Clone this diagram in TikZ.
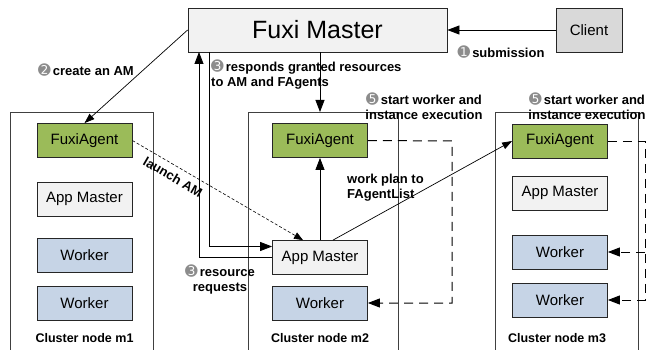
\documentclass[tikz,border=0pt]{standalone}
\usepackage{fontspec}
\setmainfont{Liberation Sans}
\newfontfamily\circfont{DejaVu Sans}
\usepackage{tikz}
\usetikzlibrary{arrows.meta}
\definecolor{masterfill}{HTML}{F2F2F2}
\definecolor{clientfill}{HTML}{D9D9D9}
\definecolor{agentfill}{HTML}{9BBB59}
\definecolor{workerfill}{HTML}{C6D4E6}
\tikzstyle{box}=[draw=black!85, line width=0.8pt, minimum width=95pt, minimum height=34pt, inner sep=0pt, font=\fontsize{15}{18}\selectfont]
\tikzstyle{agent}=[box, fill=agentfill]
\tikzstyle{appm}=[box, fill=masterfill]
\tikzstyle{worker}=[box, fill=workerfill]
\tikzstyle{lbl}=[font=\fontsize{13}{15}\selectfont\bfseries, inner sep=0pt]
\tikzstyle{clbl}=[font=\fontsize{12.5}{15}\selectfont\bfseries, inner sep=0pt]
\tikzstyle{cluster}=[draw=black!75, line width=0.8pt]
\tikzstyle{flow}=[line width=0.8pt, -{Triangle[length=12pt,width=9pt]}]
\tikzstyle{thinflow}=[line width=0.7pt, -{Triangle[length=10pt,width=7pt]}]
\tikzstyle{order}=[line width=1pt, dash pattern=on 9pt off 6pt, -{Triangle[length=12pt,width=9pt]}]
\newcommand{\stepno}[1]{{\circfont\fontsize{15}{15}\selectfont\color{black!45}#1}\,}

\begin{document}
\begin{tikzpicture}[x=1pt,y=-1pt]
\useasboundingbox (0,0) rectangle (650,350);
\draw[cluster] (10,352) |- (153,112) -- (153,352);
\draw[cluster] (248,352) |- (398,112) -- (398,352);
\draw[cluster] (495,352) |- (638,112) -- (638,352);

\node[box, fill=masterfill, minimum width=259pt, minimum height=44pt, font=\fontsize{25}{30}\selectfont] (master) at (317.5,30) {Fuxi Master};
\node[box, fill=clientfill, minimum width=66pt, minimum height=44pt] (client) at (589,30) {Client};

\node[agent] (fa1) at (84.5,140.5) {FuxiAgent};
\node[appm] (am1) at (84.5,199) {App Master};
\node[worker] (wa1) at (84.5,255.5) {Worker};
\node[worker] (wb1) at (84.5,303) {Worker};
\node[clbl] (cl1) at (84.5,338) {Cluster node m1};

\node[agent] (fa2) at (320,140.5) {FuxiAgent};
\node[appm] (am2) at (320,257.5) {App Master};
\node[worker] (w2) at (320,303) {Worker};
\node[clbl] (cl2) at (320,338) {Cluster node m2};

\node[agent] (fa3) at (560,141) {FuxiAgent};
\node[appm] (am3) at (560,193) {App Master};
\node[worker] (wa3) at (560,252) {Worker};
\node[worker] (wb3) at (560,300) {Worker};
\node[clbl] (cl3) at (557,338) {Cluster node m3};

\coordinate (rqup) at (199,52);
\coordinate (rsdn) at (209,52);
\coordinate (top2) at (320,112);
\coordinate (o2) at (452,141);
\coordinate (o3) at (645,141);

\draw[flow] (client) -- (master);
\node[lbl] (sub) at (501,52) {\stepno{➊}submission};
\draw[thinflow] (master.west) -- (fa1.north);
\node[lbl] (crt) at (86,70) {\stepno{➋}create an AM};
\draw[line width=0.6pt, dash pattern=on 3pt off 2pt, -{Triangle[length=9pt,width=7pt]}] (fa1.east) -- node[lbl, pos=0.27, sloped, below=6pt] {launch AM} ([xshift=-17pt]am2.north);
\draw[flow] (am2.west) -| (rqup);
\draw[flow] (rsdn) |- ([yshift=11pt]am2.west);
\draw[flow] (master.south -| top2) -- (top2);
\draw[flow] (am2) -- (fa2);
\node[lbl, anchor=west, align=left] (resp) at (211,74.5) {\stepno{➌}responds granted resources\\to AM and FAgents};
\node[lbl, align=center] (req) at (220,279) {\stepno{➌}resource\\requests};
\draw[thinflow] ([xshift=13pt]am2.north) -- (fa3.west);
\node[lbl, anchor=west, align=left] (plan) at (347,188) {work plan to\\FAgentList};
\draw[order] (fa2.east) -- (o2) -- (o2 |- w2.east) -- (w2.east);
\draw[order] (fa3.east) -- (o3) -- (o3 |- wb3.east) -- (wb3.east);
\draw[order] (o3 |- wa3.east) -- (wa3.east);
\node[lbl, align=center] (st2) at (424,106) {\stepno{➎}start worker and\\instance execution};
\node[lbl, align=center] (st3) at (587,106) {\stepno{➎}start worker and\\instance execution};
\end{tikzpicture}
\end{document}
